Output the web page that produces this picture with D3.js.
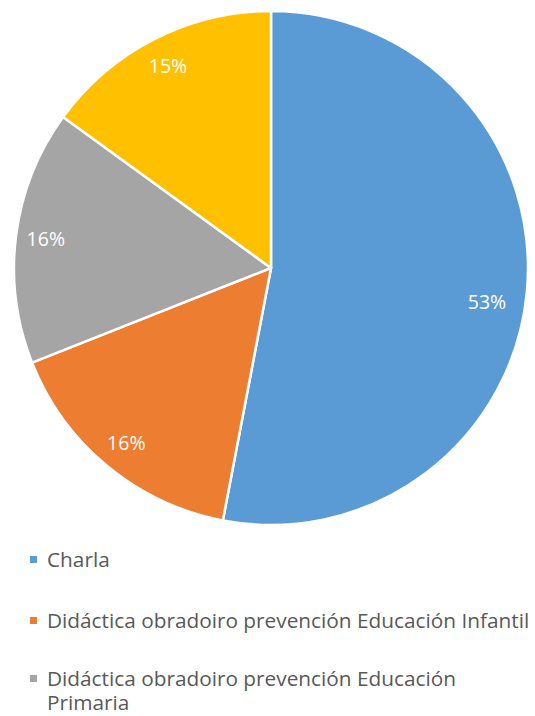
<!DOCTYPE html>
<html><head><meta charset="utf-8">
<script src="https://cdn.jsdelivr.net/npm/d3@7"></script>
<style>body{margin:0;background:#fff;}svg{display:block;}</style>
</head><body>
<svg id="c" width="535" height="716"></svg>
<script>
const categories = ["Charla","Didáctica obradoiro prevención Educación Infantil","Didáctica obradoiro prevención Educación Primaria","Didáctica obradoiro prevención Educación Secundaria"];
const values = [53, 16, 16, 15];
const labels = ["53%","16%","16%","15%"];
const colors = ["#5B9BD5","#ED7D31","#A5A5A5","#FFC000"];

const svg = d3.select("#c");
const cx = 271, cy = 268, R = 257;
const g = svg.append("g").attr("transform",`translate(${cx},${cy})`);
const pie = d3.pie().sort(null).value(d=>d)(values);
const arc = d3.arc().innerRadius(0).outerRadius(R);
g.selectAll("path").data(pie).join("path")
  .attr("d",arc).attr("fill",(d,i)=>colors[i])
  .attr("stroke","#fff").attr("stroke-width",2.5).attr("stroke-linejoin","round");
const lr = 227;
const larc = d3.arc().innerRadius(lr).outerRadius(lr);
g.selectAll("text").data(pie).join("text")
  .attr("transform",(d,i)=>{const [x,y]=larc.centroid(d); return i===0?`translate(${x-10},${y+13})`:`translate(${x},${y})`;})
  .attr("text-anchor","middle").attr("dy","0.35em")
  .attr("fill","#fff").attr("font-family","Open Sans, sans-serif").attr("font-size",19.5)
  .text((d,i)=>labels[i]);

const leg = svg.append("g").attr("font-family","Open Sans, sans-serif").attr("font-size",20.8).attr("fill","#595959");
const rowsY = [567, 628, 686];
const wraps = [[categories[0]],[categories[1]],["Didáctica obradoiro prevención Educación","Primaria"]];
rowsY.forEach((y,i)=>{
  leg.append("rect").attr("x",30).attr("y",y-11).attr("width",7).attr("height",7).attr("fill",colors[i]);
  const t = leg.append("text").attr("x",47).attr("y",y);
  wraps[i].forEach((line,j)=>t.append("tspan").attr("x",47).attr("dy",j?24:0).text(line));
});
</script>
</body></html>
